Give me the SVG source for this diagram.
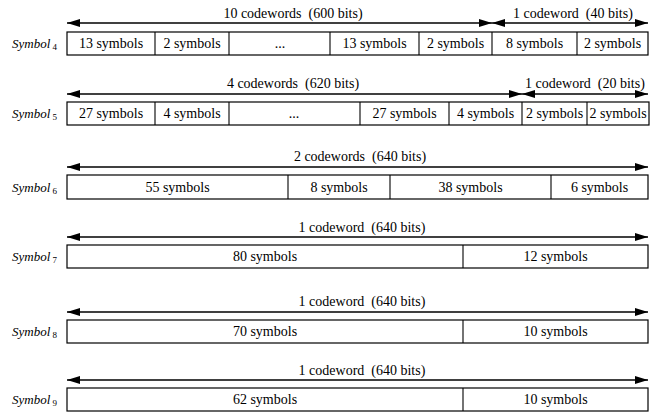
<svg xmlns="http://www.w3.org/2000/svg" width="655" height="412" viewBox="0 0 655 412">
<style>
text{font-family:"Liberation Serif","DejaVu Serif",serif;fill:#000}
.c{font-size:14px;text-anchor:middle}
.a{font-size:14px;text-anchor:middle}
.s{font-size:13px;font-style:italic}
.sub{font-size:9px;font-style:normal}
.box{fill:#fff;stroke:#000;stroke-width:1.2}
.dv{stroke:#000;stroke-width:1.1}
.ar{stroke:#000;stroke-width:1.3;fill:none;marker-start:url(#hs);marker-end:url(#he)}
</style>
<defs>
<marker id="he" markerUnits="userSpaceOnUse" markerWidth="14" markerHeight="8" refX="13" refY="4" orient="auto"><path d="M0,0 L13,4 L0,8 Z" fill="#000"/></marker>
<marker id="hs" markerUnits="userSpaceOnUse" markerWidth="14" markerHeight="8" refX="0" refY="4" orient="auto"><path d="M13,0 L0,4 L13,8 Z" fill="#000"/></marker>
</defs>
<g id="connectors">
<line class="ar" x1="67" y1="23" x2="492" y2="23"/>
<line class="ar" x1="492" y1="23" x2="648" y2="23"/>
<line class="ar" x1="67" y1="94" x2="522" y2="94"/>
<line class="ar" x1="522" y1="94" x2="648" y2="94"/>
<line class="ar" x1="67" y1="167" x2="648" y2="167"/>
<line class="ar" x1="67" y1="237" x2="648" y2="237"/>
<line class="ar" x1="67" y1="312" x2="648" y2="312"/>
<line class="ar" x1="67" y1="380" x2="648" y2="380"/>
</g>
<g id="labels-arrows">
<text class="a" x="293" y="18" xml:space="preserve">10 codewords  (600 bits)</text>
<text class="a" x="573" y="18" xml:space="preserve">1 codeword  (40 bits)</text>
<text class="a" x="293" y="88" xml:space="preserve">4 codewords  (620 bits)</text>
<text class="a" x="585" y="88" xml:space="preserve">1 codeword  (20 bits)</text>
<text class="a" x="360" y="161" xml:space="preserve">2 codewords  (640 bits)</text>
<text class="a" x="362" y="232" xml:space="preserve">1 codeword  (640 bits)</text>
<text class="a" x="362" y="306" xml:space="preserve">1 codeword  (640 bits)</text>
<text class="a" x="362" y="375" xml:space="preserve">1 codeword  (640 bits)</text>
</g>
<g id="row4">
<text class="s" x="12" y="48">Symbol<tspan class="sub" dy="2"> 4</tspan></text>
<rect class="box" x="67" y="32" width="581" height="23"/>
<line class="dv" x1="155" y1="32" x2="155" y2="55"/>
<line class="dv" x1="229" y1="32" x2="229" y2="55"/>
<line class="dv" x1="330" y1="32" x2="330" y2="55"/>
<line class="dv" x1="419" y1="32" x2="419" y2="55"/>
<line class="dv" x1="492" y1="32" x2="492" y2="55"/>
<line class="dv" x1="577" y1="32" x2="577" y2="55"/>
<text class="c" x="111" y="48">13 symbols</text>
<text class="c" x="192" y="48">2 symbols</text>
<text class="c" x="280" y="48">...</text>
<text class="c" x="374.5" y="48">13 symbols</text>
<text class="c" x="455.5" y="48">2 symbols</text>
<text class="c" x="534.5" y="48">8 symbols</text>
<text class="c" x="612.5" y="48">2 symbols</text>
</g>
<g id="row5">
<text class="s" x="12" y="118">Symbol<tspan class="sub" dy="2"> 5</tspan></text>
<rect class="box" x="67" y="102" width="582" height="23"/>
<line class="dv" x1="155" y1="102" x2="155" y2="125"/>
<line class="dv" x1="229" y1="102" x2="229" y2="125"/>
<line class="dv" x1="360" y1="102" x2="360" y2="125"/>
<line class="dv" x1="449" y1="102" x2="449" y2="125"/>
<line class="dv" x1="522" y1="102" x2="522" y2="125"/>
<line class="dv" x1="587" y1="102" x2="587" y2="125"/>
<text class="c" x="111" y="118">27 symbols</text>
<text class="c" x="192" y="118">4 symbols</text>
<text class="c" x="294" y="118">...</text>
<text class="c" x="404.5" y="118">27 symbols</text>
<text class="c" x="485.5" y="118">4 symbols</text>
<text class="c" x="554.5" y="118">2 symbols</text>
<text class="c" x="618" y="118">2 symbols</text>
</g>
<g id="row6">
<text class="s" x="12" y="192">Symbol<tspan class="sub" dy="2"> 6</tspan></text>
<rect class="box" x="67" y="175" width="581" height="24"/>
<line class="dv" x1="288" y1="175" x2="288" y2="199"/>
<line class="dv" x1="390" y1="175" x2="390" y2="199"/>
<line class="dv" x1="551" y1="175" x2="551" y2="199"/>
<text class="c" x="177.5" y="192">55 symbols</text>
<text class="c" x="339" y="192">8 symbols</text>
<text class="c" x="470.5" y="192">38 symbols</text>
<text class="c" x="599.5" y="192">6 symbols</text>
</g>
<g id="row7">
<text class="s" x="12" y="261">Symbol<tspan class="sub" dy="2"> 7</tspan></text>
<rect class="box" x="67" y="245" width="581" height="23"/>
<line class="dv" x1="463" y1="245" x2="463" y2="268"/>
<text class="c" x="265" y="261">80 symbols</text>
<text class="c" x="555.5" y="261">12 symbols</text>
</g>
<g id="row8">
<text class="s" x="12" y="336">Symbol<tspan class="sub" dy="2"> 8</tspan></text>
<rect class="box" x="67" y="320" width="581" height="23"/>
<line class="dv" x1="463" y1="320" x2="463" y2="343"/>
<text class="c" x="265" y="336">70 symbols</text>
<text class="c" x="555.5" y="336">10 symbols</text>
</g>
<g id="row9">
<text class="s" x="12" y="404">Symbol<tspan class="sub" dy="2"> 9</tspan></text>
<rect class="box" x="67" y="388" width="581" height="23"/>
<line class="dv" x1="463" y1="388" x2="463" y2="411"/>
<text class="c" x="265" y="404">62 symbols</text>
<text class="c" x="555.5" y="404">10 symbols</text>
</g>
</svg>
